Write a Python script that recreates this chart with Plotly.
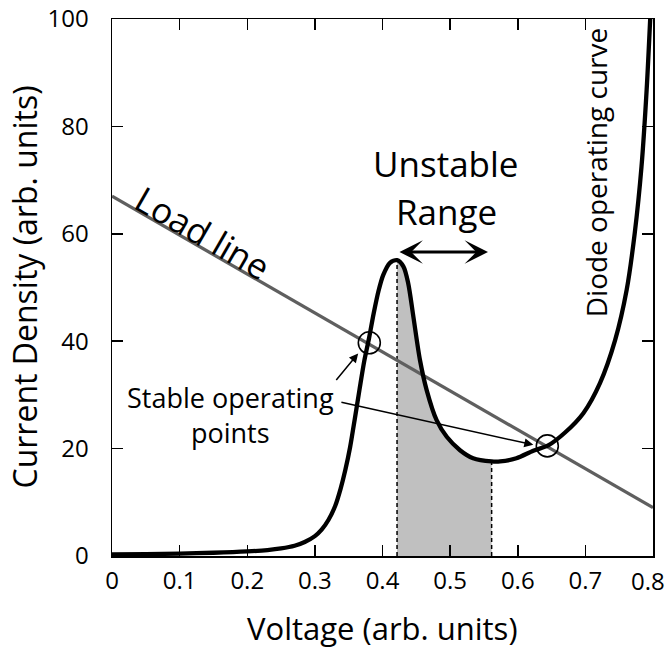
import numpy as np
import plotly.graph_objects as go

# ---------------- data ----------------
diode_v = [0.000, 0.050, 0.100, 0.150, 0.200, 0.230, 0.250, 0.270, 0.285, 0.300,
           0.310, 0.320, 0.330, 0.338, 0.345, 0.352, 0.359, 0.366, 0.373, 0.380,
           0.387, 0.394, 0.401, 0.411, 0.4215, 0.431, 0.438, 0.4456, 0.4554, 0.4653,
           0.480, 0.495, 0.5146, 0.534, 0.5614, 0.574, 0.598, 0.623, 0.645, 0.670,
           0.697, 0.7216, 0.744, 0.761, 0.773, 0.783, 0.7906, 0.796]
diode_j = [0.3, 0.35, 0.45, 0.6, 0.85, 1.1, 1.4, 1.9, 2.6, 3.7,
           4.9, 6.7, 9.3, 12.5, 16.0, 20.2, 25.5, 31.0, 36.3, 40.5,
           45.2, 49.3, 52.3, 54.6, 55.1, 53.9, 50.8, 44.6, 36.5, 30.9,
           25.3, 22.2, 19.7, 18.2, 17.6, 17.6, 18.2, 19.6, 20.6, 23.0,
           26.6, 32.2, 40.2, 49.5, 60.1, 72.5, 86.8, 100.4]

load_v = [0.0, 0.8]
load_j = [67.0, 9.0]

unstable_lo = 0.4215
unstable_hi = 0.5614

stable_v = [0.3805, 0.6437]
stable_j = [39.7, 20.5]

x_ticks = [0, 0.1, 0.2, 0.3, 0.4, 0.5, 0.6, 0.7, 0.8]
x_ticklabels = ["0", "0.1", "0.2", "0.3", "0.4", "0.5", "0.6", "0.7", "0.8"]
y_ticks = [0, 20, 40, 60, 80, 100]
y_ticklabels = ["0", "20", "40", "60", "80", "100"]

x_title = "Voltage (arb. units)"
y_title = "Current Density (arb. units)"

FONT = "Open Sans"

dv = np.array(diode_v)
dj = np.array(diode_j)
mask = (dv >= unstable_lo) & (dv <= unstable_hi)
i_lo = int(np.where(dv == unstable_lo)[0][0])
i_hi = int(np.where(dv == unstable_hi)[0][0])

fig = go.Figure()

# shaded unstable region under the curve
fig.add_trace(go.Scatter(x=dv[mask], y=dj[mask], mode="lines",
                         line=dict(width=0, shape="spline", smoothing=0.8),
                         fill="tozeroy", fillcolor="#c0c0c0", hoverinfo="skip", showlegend=False))
# dashed boundaries
for i in (i_lo, i_hi):
    fig.add_trace(go.Scatter(x=[dv[i], dv[i]], y=[0, dj[i]], mode="lines",
                             line=dict(color="black", width=1.5, dash="4px,3px"),
                             hoverinfo="skip", showlegend=False))
# load line
fig.add_trace(go.Scatter(x=load_v, y=load_j, mode="lines",
                         line=dict(color="#5f5f5f", width=3.3), showlegend=False))
# diode curve
fig.add_trace(go.Scatter(x=diode_v, y=diode_j, mode="lines",
                         line=dict(color="black", width=4.3, shape="spline", smoothing=0.8),
                         showlegend=False))
# stable points
fig.add_trace(go.Scatter(x=stable_v, y=stable_j, mode="markers",
                         marker=dict(symbol="circle-open", size=22, color="black",
                                     line=dict(width=1.6, color="black")),
                         showlegend=False))

axis_common = dict(showline=True, linecolor="black", linewidth=1.5, mirror="ticks",
                   ticks="inside", ticklen=11, tickwidth=1.5, tickcolor="black",
                   showgrid=False, zeroline=False, automargin=False,
                   tickfont=dict(family=FONT, size=24, color="black"))

# last x tick label is drawn as an annotation nudged inward so it stays in the frame
x_ticktext_axis = x_ticklabels[:-1] + [""]

fig.update_layout(
    width=668, height=648,
    margin=dict(l=112, r=15, t=19, b=92),
    plot_bgcolor="white", paper_bgcolor="white",
    font=dict(family=FONT, color="black"),
    xaxis=dict(range=[-0.00001, 0.80001], tickvals=x_ticks, ticktext=x_ticktext_axis,
               ticklabelstandoff=3, **axis_common),
    yaxis=dict(range=[-0.001, 100.001], tickvals=y_ticks, ticktext=y_ticklabels,
               ticklabelstandoff=17, **axis_common),
)

ann = []
ann.append(dict(x=x_ticks[-1], y=0, xref="x", yref="paper", yanchor="middle", yshift=-24,
                xshift=-5, text=x_ticklabels[-1], showarrow=False,
                font=dict(family=FONT, size=24, color="black")))
# axis titles
ann.append(dict(x=0.5, y=0, xref="paper", yref="paper", yanchor="middle", yshift=-72,
                text=x_title, showarrow=False, font=dict(family=FONT, size=31, color="black")))
ann.append(dict(x=0, y=0.5, xref="paper", yref="paper", xanchor="center", xshift=-88,
                text=y_title, textangle=-90, showarrow=False,
                font=dict(family=FONT, size=32, color="black")))
ann.append(dict(x=0.494, y=73.0, xref="x", yref="y", text="Unstable", showarrow=False,
                font=dict(family=FONT, size=35, color="black")))
ann.append(dict(x=0.494, y=64.2, xref="x", yref="y", text="Range", showarrow=False,
                font=dict(family=FONT, size=35, color="black")))
ann.append(dict(x=0.134, y=60.3, xref="x", yref="y", text="Load line", showarrow=False,
                textangle=30, font=dict(family=FONT, size=35, color="black")))
ann.append(dict(x=0.716, y=71.5, xref="x", yref="y", text="Diode operating curve", showarrow=False,
                textangle=-90, font=dict(family=FONT, size=28, color="black")))
ann.append(dict(x=0.1745, y=26.3, xref="x", yref="y", text="Stable operating<br>points",
                showarrow=False, font=dict(family=FONT, size=27, color="black")))
# double arrow
ann.append(dict(x=0.556, y=56.6, ax=0.4229, ay=56.6, xref="x", yref="y", axref="x", ayref="y",
                text="", showarrow=True, arrowside="end+start", arrowhead=3, arrowsize=1.3,
                arrowwidth=3, arrowcolor="black", standoff=0, startstandoff=0))
# stable point arrows
ann.append(dict(x=0.364, y=37.7, ax=0.3298, ay=32.5, xref="x", yref="y", axref="x", ayref="y",
                text="", showarrow=True, arrowhead=2, arrowsize=1.2, arrowwidth=1.5,
                arrowcolor="black", standoff=0))
ann.append(dict(x=0.623, y=20.7, ax=0.337, ay=28.7, xref="x", yref="y", axref="x", ayref="y",
                text="", showarrow=True, arrowhead=2, arrowsize=1.2, arrowwidth=1.5,
                arrowcolor="black", standoff=0))
fig.update_layout(annotations=ann)

fig.write_html("out.html",
               config={"displayModeBar": False, "staticPlot": True},
               post_script="document.body.style.margin='0';document.body.style.padding='0';"
                           "document.body.style.overflow='hidden';")
